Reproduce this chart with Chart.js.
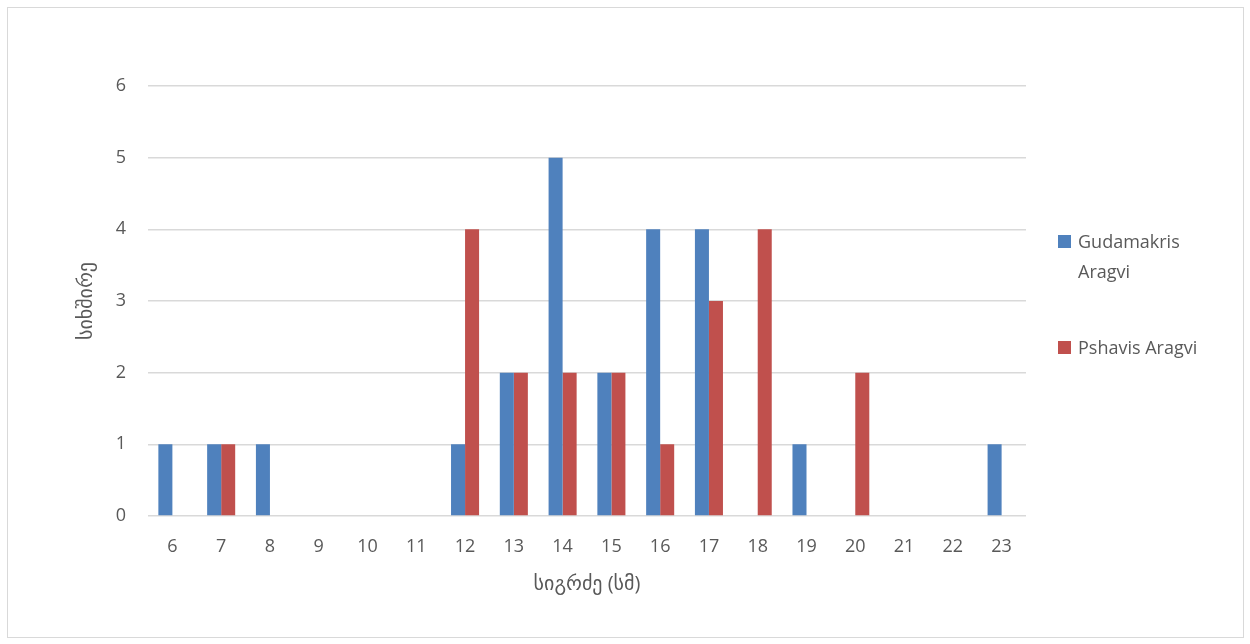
<!DOCTYPE html>
<html>
<head>
<meta charset="utf-8">
<script src="https://cdn.jsdelivr.net/npm/chart.js@4/dist/chart.umd.min.js"></script>
<style>
  body { margin: 0; background: #fff; font-family: "Open Sans", "DejaVu Sans", sans-serif; }
  #frame { position: absolute; left: 7px; top: 7px; width: 1235px; height: 629px; border: 1px solid #d9d9d9; }
  #wrap { position: absolute; left: 0; top: 0; width: 1250px; height: 644px; }
  #legend { position: absolute; left: 1058px; top: 226px; width: 170px; color: #595959; font-size: 18px; line-height: 30px; }
  #legend .item { display: flex; align-items: flex-start; margin-bottom: 46px; }
  #legend .box { width: 13px; height: 13px; margin-top: 9px; margin-right: 7px; flex: none; }
</style>
</head>
<body>
<div id="frame"></div>
<div id="wrap"><canvas id="chart"></canvas></div>
<div id="legend"></div>
<script>
const lengths = ["6", "7", "8", "9", "10", "11", "12", "13", "14", "15", "16", "17", "18", "19", "20", "21", "22", "23"];
const gudamakris = [1, 1, 1, 0, 0, 0, 1, 2, 5, 2, 4, 4, 0, 1, 0, 0, 0, 1];
const pshavis = [0, 1, 0, 0, 0, 0, 4, 2, 2, 2, 1, 3, 4, 0, 2, 0, 0, 0];
const seriesNames = ["Gudamakris Aragvi", "Pshavis Aragvi"];
const yTitle = "სიხშირე";
const xTitle = "სიგრძე (სმ)";

const textColor = "#595959";
const gridColor = "#d9d9d9";
const font = { family: "'Open Sans', 'DejaVu Sans', sans-serif", size: 18 };

const chart = new Chart(document.getElementById("chart"), {
  type: "bar",
  data: {
    labels: lengths,
    datasets: [
      { label: seriesNames[0], data: gudamakris, backgroundColor: "#4f81bd" },
      { label: seriesNames[1], data: pshavis, backgroundColor: "#c0504d" },
    ],
  },
  options: {
    responsive: false,
    animation: false,
    categoryPercentage: 0.575,
    barPercentage: 1,
    layout: { padding: { left: 70, right: 224, top: 86, bottom: 25 } },
    plugins: { legend: { display: false }, tooltip: { enabled: false } },
    scales: {
      x: {
        grid: { display: false },
        border: { display: false },
        ticks: { color: textColor, font: font, padding: 12, maxRotation: 0 },
        title: { display: true, text: xTitle, color: textColor, font: { family: font.family, size: 20 }, padding: { top: 4 } },
        afterFit: (scale) => { scale.height = 84; },
      },
      y: {
        min: 0,
        max: 6,
        ticks: { stepSize: 1, color: textColor, font: font, padding: 22 },
        grid: { color: gridColor, lineWidth: 1.5, drawTicks: false },
        border: { display: false },
        title: { display: true, text: yTitle, color: textColor, font: { family: font.family, size: 20 }, padding: { bottom: 6 } },
        afterFit: (scale) => { scale.width = 78; },
      },
    },
  },
});
chart.canvas.style.width = "1250px";
chart.resize(1250, 644);

const legend = document.getElementById("legend");
chart.data.datasets.forEach((ds) => {
  const item = document.createElement("div");
  item.className = "item";
  item.innerHTML = '<span class="box" style="background:' + ds.backgroundColor + '"></span><span>' + ds.label + "</span>";
  legend.appendChild(item);
});
</script>
</body>
</html>
